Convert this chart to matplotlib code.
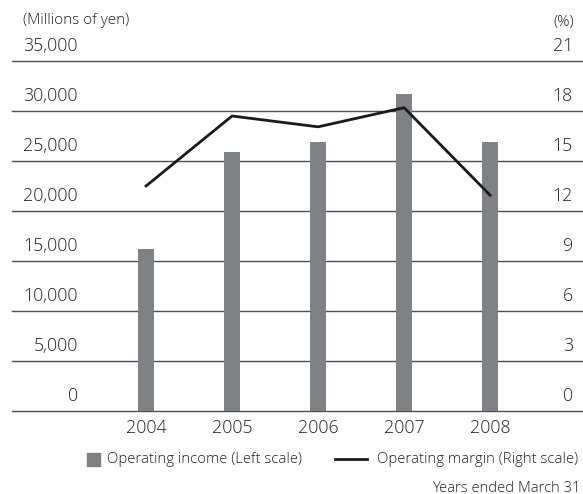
import numpy as np
import matplotlib.pyplot as plt
from matplotlib.patches import Rectangle
from matplotlib.lines import Line2D

plt.rcParams['font.family'] = ['Open Sans', 'DejaVu Sans']
plt.rcParams['font.weight'] = 'light'

# Operating income (millions of yen) and operating margin (%)
years = ['2004', '2005', '2006', '2007', '2008']
operating_income = [16200, 25900, 26900, 31700, 26900]
operating_margin = [13.5, 17.7, 17.05, 18.2, 12.95]

left_ticks = [0, 5000, 10000, 15000, 20000, 25000, 30000, 35000]
right_ticks = [0, 3, 6, 9, 12, 15, 18, 21]

bar_color = '#808184'
grid_color = '#4d4d4d'
text_color = '#231f20'

W, H = 583, 494
fig = plt.figure(figsize=(W / 100, H / 100), dpi=100)
ax = fig.add_axes([12 / W, (H - 411) / H, (W - 12) / W, 350 / H])

x = np.arange(len(years))
ax.bar(x, operating_income, width=0.195, color=bar_color, zorder=2)
ax.set_xlim(-1.558, 5.08)
ax.set_ylim(0, 35000)

for t in left_ticks:
    ax.axhline(t, color=grid_color, lw=1.0, zorder=1, clip_on=False)

ax2 = ax.twinx()
ax2.plot(x, operating_margin, color='#1a1a1a', lw=2.0, zorder=3)
ax2.set_ylim(0, 21)

for a in (ax, ax2):
    a.set_xticks([])
    a.set_yticks([])
    for s in a.spines.values():
        s.set_visible(False)

# tick labels sit just above each gridline
for t in left_ticks:
    ax.annotate(f'{t:,}', xy=(78 / W, t), xycoords=('figure fraction', 'data'),
                xytext=(0, 4), textcoords='offset points',
                ha='right', va='bottom', fontsize=12.8, color=text_color)
for t in right_ticks:
    ax2.annotate(f'{t}', xy=(573 / W, t), xycoords=('figure fraction', 'data'),
                 xytext=(0, 4), textcoords='offset points',
                 ha='right', va='bottom', fontsize=12.8, color=text_color)

for i, yr in enumerate(years):
    ax.annotate(yr, xy=(i, 0), xycoords='data', xytext=(0, -17),
                textcoords='offset pixels', ha='center', va='center',
                fontsize=12.8, color=text_color)

fig.text(23 / W, 1 - 21 / H, '(Millions of yen)', ha='left', va='center',
         fontsize=11, color=text_color)
fig.text(574 / W, 1 - 22 / H, '(%)', ha='right', va='center',
         fontsize=11, color=text_color)

# legend
ly = 1 - 459 / H
fig.add_artist(Rectangle((87 / W, ly - 6.5 / H), 13 / W, 13 / H,
                         transform=fig.transFigure, color=bar_color))
fig.text(107 / W, ly, 'Operating income (Left scale)', ha='left', va='center',
         fontsize=10.7, color=text_color)
fig.add_artist(Line2D([335 / W, 367 / W], [ly, ly], transform=fig.transFigure,
                      color='#1a1a1a', lw=2.0))
fig.text(377 / W, ly, 'Operating margin (Right scale)', ha='left', va='center',
         fontsize=10.7, color=text_color)

fig.text(581 / W, 1 - 488 / H, 'Years ended March 31', ha='right', va='center',
         fontsize=10.6, color=text_color)

fig.savefig('out.png', dpi=100)
